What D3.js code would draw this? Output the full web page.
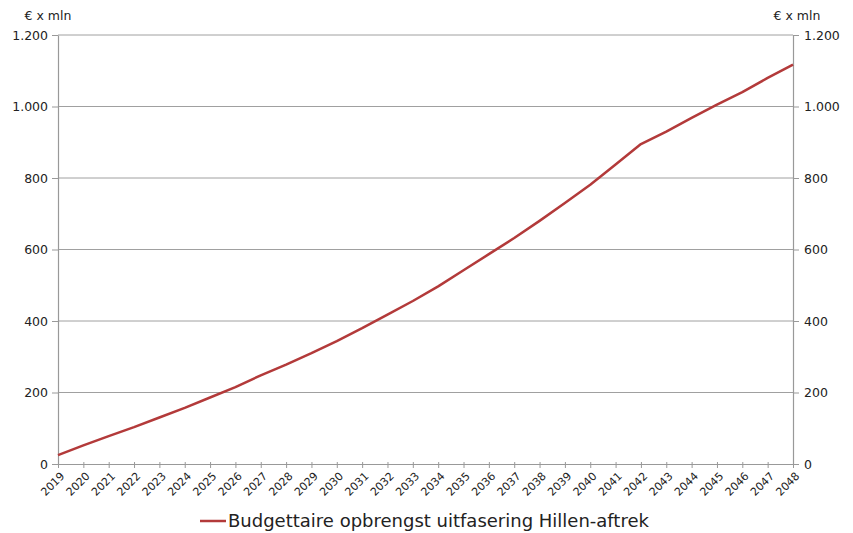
<!DOCTYPE html>
<html>
<head>
<meta charset="utf-8">
<script src="https://cdn.jsdelivr.net/npm/d3@7"></script>
<style>
	body { margin: 0; background: #fff; }
	text { font-family: "DejaVu Sans", Verdana, sans-serif; fill: #222; }
</style>
</head>
<body>
<div id="chart" style="width:853px;height:533px;"></div>
<script>
// data
var years = [2019, 2020, 2021, 2022, 2023, 2024, 2025, 2026, 2027, 2028,
	2029, 2030, 2031, 2032, 2033, 2034, 2035, 2036, 2037, 2038,
	2039, 2040, 2041, 2042, 2043, 2044, 2045, 2046, 2047, 2048];
var opbrengst = [25, 52, 78, 103, 130, 157, 186, 215, 248, 278,
	310, 344, 380, 418, 456, 497, 542, 587, 632, 680,
	730, 781, 838, 895, 930, 968, 1005, 1040, 1080, 1117];
var yTicks = [0, 200, 400, 600, 800, 1000, 1200];
var unitLabel = "€ x mln";
var seriesName = "Budgettaire opbrengst uitfasering Hillen-aftrek";

var width = 853, height = 533;
var padding = { top: 35, bottom: 69, left: 58, right: 60 };
var chart = {
	width: width - padding.left - padding.right,
	height: height - padding.top - padding.bottom
};

var svg = d3.select("#chart").append("svg")
	.attr("width", width)
	.attr("height", height)
	.style("display", "block");

var scaleX = d3.scaleLinear().domain([2019, 2048]).range([padding.left, padding.left + chart.width]);
var scaleY = d3.scaleLinear().domain([0, 1200]).range([padding.top + chart.height, padding.top]);

var fmt = function(v) { return d3.format(",")(v).replace(/,/g, "."); };

// grid
svg.append("g").selectAll("line").data(yTicks.slice(1)).enter()
	.append("line")
	.attr("x1", padding.left)
	.attr("x2", padding.left + chart.width)
	.attr("y1", function(d) { return scaleY(d); })
	.attr("y2", function(d) { return scaleY(d); })
	.style("stroke", "#a0a0a0")
	.style("stroke-width", 1);

// axes
var styleAxis = function(g) {
	g.select(".domain").style("stroke", "#999").style("stroke-width", 1.2);
	g.selectAll(".tick line").style("stroke", "#999");
	g.selectAll("text").style("font-size", "12.5px").style("fill", "#222");
};

var leftAxis = svg.append("g")
	.attr("transform", "translate(" + padding.left + ",0)")
	.call(d3.axisLeft(scaleY).tickValues(yTicks).tickFormat(fmt).tickSize(6).tickSizeOuter(0).tickPadding(4))
	.call(styleAxis);

var rightAxis = svg.append("g")
	.attr("transform", "translate(" + (padding.left + chart.width) + ",0)")
	.call(d3.axisRight(scaleY).tickValues(yTicks).tickFormat(fmt).tickSize(6).tickSizeOuter(0).tickPadding(5))
	.call(styleAxis);

var bottomAxis = svg.append("g")
	.attr("transform", "translate(0," + (padding.top + chart.height) + ")")
	.call(d3.axisBottom(scaleX).tickValues(years).tickFormat(d3.format("d")).tickSize(4).tickSizeOuter(0))
	.call(styleAxis);

bottomAxis.selectAll(".tick line").attr("y1", -2);

bottomAxis.selectAll("text")
	.style("font-size", "11px")
	.style("text-anchor", "end")
	.attr("y", 0)
	.attr("dy", "0.35em")
	.attr("transform", "translate(4,10) rotate(-45)");

// unit labels
svg.append("text")
	.attr("x", 48)
	.attr("y", 20)
	.style("text-anchor", "middle")
	.style("font-size", "12.5px")
	.text(unitLabel);

svg.append("text")
	.attr("x", 797)
	.attr("y", 20)
	.style("text-anchor", "middle")
	.style("font-size", "12.5px")
	.text(unitLabel);

// line
var line = d3.line()
	.x(function(d, i) { return scaleX(years[i]); })
	.y(function(d) { return scaleY(d); });

svg.append("path")
	.datum(opbrengst)
	.attr("d", line)
	.style("fill", "none")
	.style("stroke", "#b33a3a")
	.style("stroke-width", 2.5)
	.style("stroke-linejoin", "round");

// legend
var legend = svg.append("g").attr("transform", "translate(200,521)");
legend.append("line")
	.attr("x1", 0).attr("x2", 26)
	.attr("y1", 0).attr("y2", 0)
	.style("stroke", "#b33a3a")
	.style("stroke-width", 2.5);
legend.append("text")
	.attr("x", 28)
	.attr("y", 0)
	.attr("dy", "0.35em")
	.style("font-size", "18px")
	.text(seriesName);
</script>
</body>
</html>
